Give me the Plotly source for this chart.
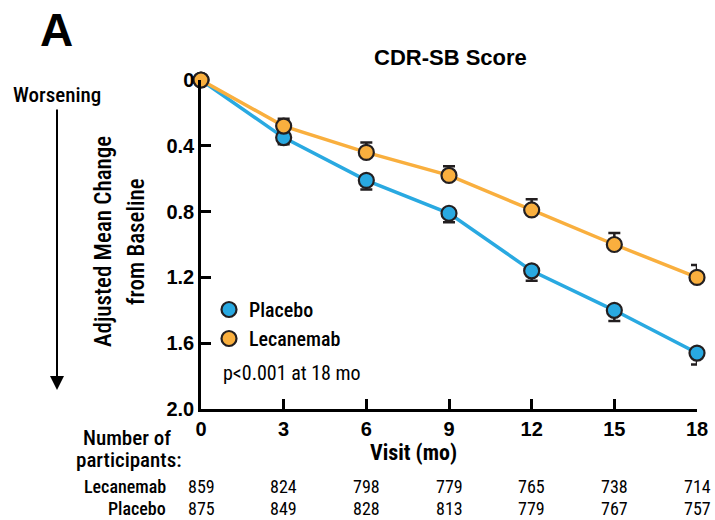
import plotly.graph_objects as go

# CDR-SB adjusted mean change from baseline by visit
visits = [0, 3, 6, 9, 12, 15, 18]
placebo = [0, 0.35, 0.61, 0.81, 1.16, 1.40, 1.66]
lecanemab = [0, 0.28, 0.44, 0.58, 0.79, 1.00, 1.20]
placebo_se = [0, 0.04, 0.055, 0.055, 0.06, 0.065, 0.07]
lecanemab_se = [0, 0.045, 0.06, 0.055, 0.065, 0.07, 0.075]

# participants at each visit
n_lecanemab = [859, 824, 798, 779, 765, 738, 714]
n_placebo = [875, 849, 828, 813, 779, 767, 757]

y_ticks = [0, 0.4, 0.8, 1.2, 1.6, 2.0]
y_ticklabels = ["0", "0.4", "0.8", "1.2", "1.6", "2.0"]

BLUE = "#29A9E1"
ORANGE = "#F9AF3E"
INK = "#231F20"
COND = "Roboto Condensed, Liberation Sans Narrow, Arial Narrow, sans-serif"
SANS = "Liberation Sans, Arial, Helvetica, sans-serif"

W, H = 715, 520
L, R, T, B = 201, 697, 80, 409  # plot area in pixels


def fx(px):
    return (px - L) / (R - L)


def fy(py):
    return (B - py) / (B - T)


def label(text, px, py, size, family=COND, weight="normal", xanchor="center", angle=0):
    return dict(text=text, x=fx(px), y=fy(py), xref="paper", yref="paper",
                xanchor=xanchor, yanchor="middle", showarrow=False, textangle=angle,
                font=dict(size=size, family=family, weight=weight, color="black"))


fig = go.Figure()

for name, vals, se, color, up in [
    ("Placebo", placebo, placebo_se, BLUE, False),
    ("Lecanemab", lecanemab, lecanemab_se, ORANGE, True),
]:
    zeros = [0] * len(se)
    fig.add_trace(go.Scatter(
        x=visits, y=vals, mode="lines+markers", name=name,
        showlegend=False, cliponaxis=False,
        line=dict(color=color, width=3.5),
        marker=dict(size=15, color=color, line=dict(color=INK, width=2.2)),
        error_y=dict(type="data", symmetric=False,
                     array=zeros if up else se,
                     arrayminus=se if up else zeros,
                     color=INK, thickness=2.5, width=6),
    ))

# legend entries (marker only)
for name, color, grp in [("Placebo", BLUE, "a"), ("Lecanemab", ORANGE, "b")]:
    fig.add_trace(go.Scatter(
        x=[None], y=[None], mode="markers", name=name, legendgroup=grp,
        marker=dict(size=15, color=color, line=dict(color=INK, width=2.2)),
    ))

ann = [
    label("A", 56, 30, 46, SANS, "bold"),
    label("CDR-SB Score", 450, 58, 22, SANS, "bold"),
    label("Worsening", 57, 95, 21, COND, 500),
    dict(text="", x=fx(57), y=fy(390), xref="paper", yref="paper",
         ax=0, ay=-282, showarrow=True, arrowhead=2, arrowsize=1.4,
         arrowwidth=2, arrowcolor="black"),
    label("Adjusted Mean Change", 103, 242, 23, COND, 500, angle=-90),
    label("from Baseline", 136, 242, 23, COND, 500, angle=-90),
    label("p<0.001 at 18 mo", 221, 373, 20, COND, "normal", xanchor="left"),
    label("Visit (mo)", 413, 452, 22, COND, "bold"),
    label("Number of", 127, 438, 21, COND, 500),
    label("participants:", 129, 460, 21, COND, 500),
]
for name, counts, py in [("Lecanemab", n_lecanemab, 486), ("Placebo", n_placebo, 508)]:
    ann.append(label(name, 168, py, 18, COND, 500, xanchor="right"))
    for v, c in zip(visits, counts):
        ann.append(dict(text=str(c), x=v, y=fy(py), xref="x", yref="paper",
                        xanchor="center", yanchor="middle", showarrow=False,
                        font=dict(size=18, family=COND, color="black")))

fig.update_layout(
    width=W, height=H,
    margin=dict(l=L, r=W - R, t=T, b=H - B, autoexpand=False),
    paper_bgcolor="white", plot_bgcolor="white",
    font=dict(family=COND, color="black"),
    annotations=ann,
    legend=dict(x=fx(209), y=fy(290), xanchor="left", yanchor="top",
                bgcolor="rgba(0,0,0,0)", tracegroupgap=0, itemwidth=30,
                font=dict(size=20, family=COND, weight=500, color="black")),
    xaxis=dict(range=[0, 18], tickvals=visits, automargin=False,
               showgrid=False, zeroline=False, showline=True, linecolor="black",
               linewidth=2.5, ticks="inside", ticklen=10, tickwidth=2.5,
               tickcolor="black", tickfont=dict(size=20, family=SANS, weight="bold")),
    yaxis=dict(range=[2.0, 0], tickvals=y_ticks, ticktext=y_ticklabels, automargin=False,
               showgrid=False, zeroline=False, showline=True, linecolor="black",
               linewidth=2.5, ticks="inside", ticklen=10, tickwidth=2.5,
               tickcolor="black", tickfont=dict(size=20, family=SANS, weight="bold")),
)

fig.write_html("out.html")
